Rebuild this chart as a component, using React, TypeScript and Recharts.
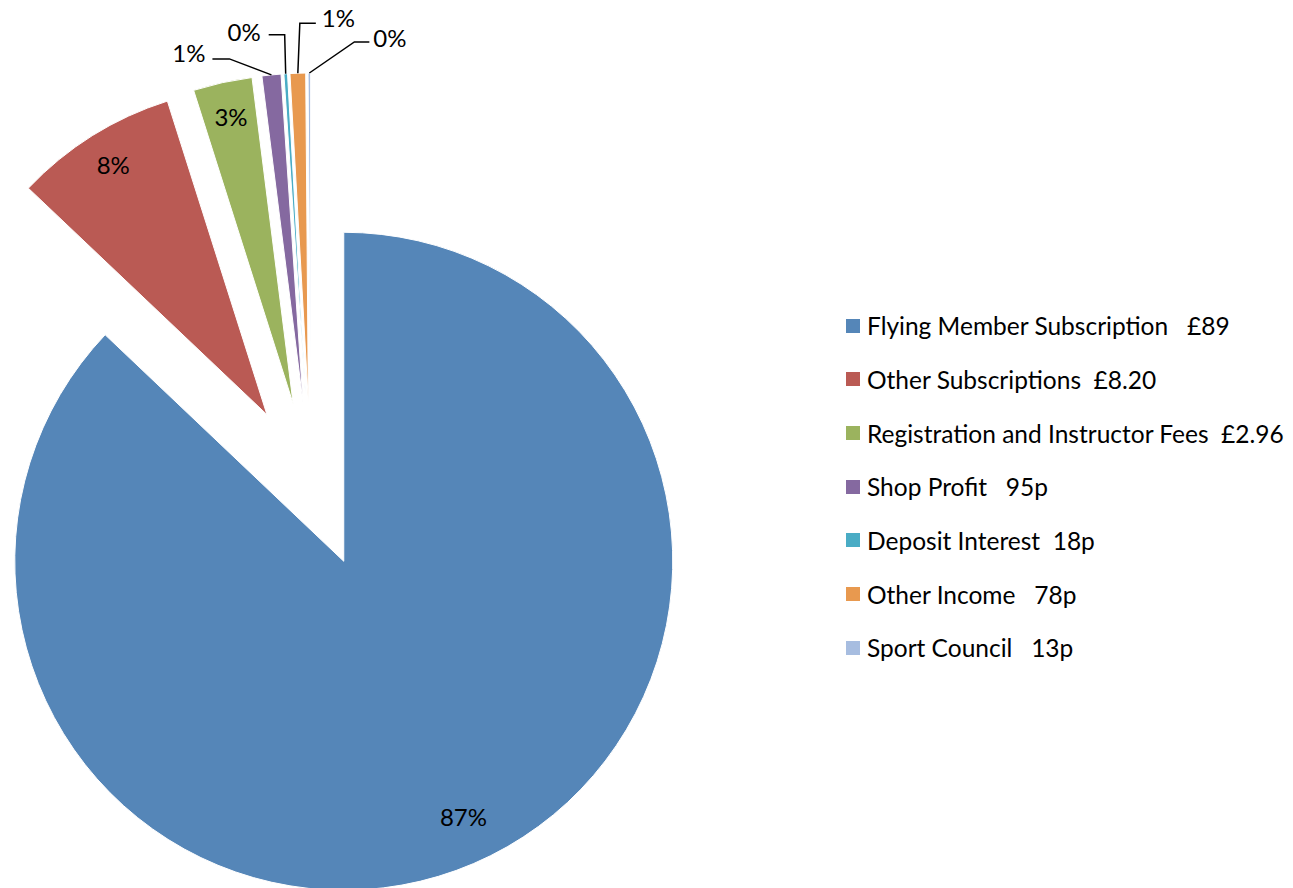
import React from 'react';
import { PieChart, Pie, Sector, Legend } from 'recharts';

const CATEGORIES = [
  'Flying Member Subscription',
  'Other Subscriptions',
  'Registration and Instructor Fees',
  'Shop Profit',
  'Deposit Interest',
  'Other Income',
  'Sport Council',
];
const VALUES = [89, 8.2, 2.96, 0.95, 0.18, 0.78, 0.13];
const LEGEND_LABELS = [
  'Flying Member Subscription   £89',
  'Other Subscriptions  £8.20',
  'Registration and Instructor Fees  £2.96',
  'Shop Profit   95p',
  'Deposit Interest  18p',
  'Other Income   78p',
  'Sport Council   13p',
];
const COLORS = ['#5586B8', '#BA5A54', '#9BB35E', '#8569A0', '#4AACC5', '#E8994F', '#A7BDE0'];

const data = CATEGORIES.map((name, i) => ({ name, value: VALUES[i] }));

const RADIAN = Math.PI / 180;
const EXPLODE = 83;
const FONT = 'Lato, "Liberation Sans", sans-serif';
const LABEL_SIZE = 24;
const LEGEND_SIZE = 24.5;

// leader-line styling for the outside labels (by slice index)
const LEADERS: Record<number, { ex: number; ey: number; tail: number; gap: number; ty: number }> = {
  3: { ex: -42, ey: -16, tail: -17, gap: 7, ty: -6 },
  4: { ex: -1, ey: -39, tail: -16, gap: 8, ty: -3 },
  5: { ex: 2, ey: -50, tail: 16, gap: 6, ty: -6 },
  6: { ex: 45, ey: -31, tail: 15, gap: 4, ty: -5 },
};

function renderSlice(props: any) {
  const { cx, cy, midAngle, outerRadius, startAngle, endAngle, index, percent } = props;
  const cos = Math.cos(-midAngle * RADIAN);
  const sin = Math.sin(-midAngle * RADIAN);
  const ox = cx + EXPLODE * cos;
  const oy = cy + EXPLODE * sin;
  const text = `${Math.round(percent * 100)}%`;
  const leader = LEADERS[index];
  let labelEl: React.ReactNode;
  if (!leader) {
    const k = index === 0 ? 0.86 : 0.88;
    const lx = ox + outerRadius * k * cos + (index === 0 ? 8 : 0);
    const ly = oy + outerRadius * k * sin - 5;
    labelEl = (
      <text x={lx} y={ly} textAnchor="middle" dominantBaseline="central" fontFamily={FONT} fontSize={LABEL_SIZE} fill="#000">
        {text}
      </text>
    );
  } else {
    const ax = ox + outerRadius * cos;
    const ay = oy + outerRadius * sin;
    const bx = ax + leader.ex;
    const by = ay + leader.ey;
    const tx = bx + leader.tail;
    const dir = Math.sign(leader.tail);
    labelEl = (
      <g>
        <polyline points={`${ax},${ay} ${bx},${by} ${tx},${by}`} fill="none" stroke="#000" strokeWidth={1.5} />
        <text
          x={tx + dir * leader.gap}
          y={by + leader.ty}
          textAnchor={dir < 0 ? 'end' : 'start'}
          dominantBaseline="central"
          fontFamily={FONT}
          fontSize={LABEL_SIZE}
          fill="#000"
        >
          {text}
        </text>
      </g>
    );
  }
  return (
    <g key={`slice-${index}`}>
      <Sector
        cx={ox}
        cy={oy}
        innerRadius={0}
        outerRadius={outerRadius}
        startAngle={startAngle}
        endAngle={endAngle}
        fill={COLORS[index]}
        stroke="#fff"
        strokeWidth={1}
      />
      {labelEl}
    </g>
  );
}

const ROW_H = 53.67;

function LegendContent() {
  return (
    <div style={{ fontFamily: FONT, fontSize: LEGEND_SIZE, color: '#000' }}>
      {LEGEND_LABELS.map((label, i) => (
        <div key={label} style={{ height: ROW_H, display: 'flex', alignItems: 'center' }}>
          <span style={{ width: 14, height: 14, background: COLORS[i], display: 'inline-block', marginRight: 7, flex: 'none' }} />
          <span style={{ whiteSpace: 'pre' }}>{label}</span>
        </div>
      ))}
    </div>
  );
}

export default function App() {
  return (
    <div style={{ position: 'absolute', left: 0, top: 0, width: 1293, height: 888, background: '#fff' }}>
      <PieChart width={1293} height={888} margin={{ top: 0, right: 0, bottom: 0, left: 0 }}>
        <Pie
          data={data}
          dataKey="value"
          nameKey="name"
          cx={311}
          cy={485}
          outerRadius={329}
          startAngle={90}
          endAngle={-270}
          fill="none"
          stroke="none"
          labelLine={false}
          label={renderSlice}
          isAnimationActive={false}
        />
        <Legend
          content={() => <LegendContent />}
          wrapperStyle={{ position: 'absolute', left: 846, top: 299, bottom: 'auto', width: 447, height: 380 }}
        />
      </PieChart>
    </div>
  );
}
